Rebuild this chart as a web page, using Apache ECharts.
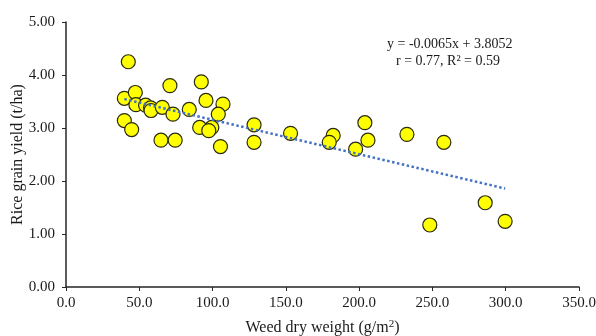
<!DOCTYPE html>
<html>
<head>
<meta charset="utf-8">
<script src="https://cdn.jsdelivr.net/npm/echarts@6/dist/echarts.min.js"></script>
<style>
  html, body { margin: 0; padding: 0; background: #ffffff; }
  #chart { width: 596px; height: 336px; }
</style>
</head>
<body>
<div id="chart"></div>
<script>
// weed dry weight (g/m2) and rice grain yield (t/ha)
const weedWeight = [
  42.5, 39.8, 47.3, 47.7, 54.3, 57.7, 58.0, 65.7, 70.9, 73.0,
  84.1, 92.3, 95.5, 107.1, 103.9, 91.2, 99.5, 97.4, 39.8, 44.8,
  64.8, 74.5, 105.4, 128.3, 128.3, 153.2, 182.3, 179.6, 203.9, 206.0,
  197.6, 232.6, 257.8, 286.0, 299.6, 248.2
];
const grainYield = [
  4.25, 3.56, 3.67, 3.44, 3.43, 3.38, 3.33, 3.39, 3.80, 3.26,
  3.35, 3.87, 3.52, 3.45, 3.26, 3.01, 3.01, 2.95, 3.14, 2.97,
  2.77, 2.77, 2.65, 3.06, 2.73, 2.90, 2.86, 2.73, 3.10, 2.77,
  2.60, 2.88, 2.73, 1.59, 1.24, 1.17
];

// linear trend end points
const trendX = [39.8, 299.6];
const trendY = [3.546, 1.858];

const xTicks = [0, 50, 100, 150, 200, 250, 300, 350];
const yTicks = [0, 1, 2, 3, 4, 5];

const equationText = 'y = -0.0065x + 3.8052';
const statsText = 'r = 0.77, R\u00B2 = 0.59';

const serif = '"Liberation Serif", "Times New Roman", serif';
const axisColor = '#262626';
const textColor = '#1a1a1a';

const chart = echarts.init(document.getElementById('chart'), null, { renderer: 'canvas' });

const option = {
  animation: false,
  backgroundColor: '#ffffff',
  grid: { left: 66, right: 17, top: 22, bottom: 49, outerBoundsMode: 'none' },
  xAxis: {
    type: 'value',
    min: xTicks[0],
    max: xTicks[xTicks.length - 1],
    interval: 50,
    name: 'Weed dry weight (g/m{sup|2})',
    nameLocation: 'middle',
    nameGap: 32,
    nameMoveOverlap: false,
    nameTextStyle: {
      fontFamily: serif, fontSize: 16, color: textColor,
      rich: { sup: { fontFamily: serif, fontSize: 11, color: textColor, verticalAlign: 'top', padding: [0, 0, 7, 0] } }
    },
    axisLine: { lineStyle: { color: axisColor, width: 1.5 } },
    axisTick: { show: true, length: 4, lineStyle: { color: axisColor } },
    splitLine: { show: false },
    axisLabel: {
      fontFamily: serif, fontSize: 15, color: textColor, margin: 9,
      formatter: v => v.toFixed(1)
    }
  },
  yAxis: {
    type: 'value',
    min: yTicks[0],
    max: yTicks[yTicks.length - 1],
    interval: 1,
    name: 'Rice grain yield (t/ha)',
    nameLocation: 'middle',
    nameGap: 40,
    nameMoveOverlap: false,
    nameRotate: 90,
    nameTextStyle: { fontFamily: serif, fontSize: 16, color: textColor },
    axisLine: { show: true, lineStyle: { color: axisColor, width: 1.5 } },
    axisTick: { show: true, length: 4, lineStyle: { color: axisColor } },
    splitLine: { show: false },
    axisLabel: {
      fontFamily: serif, fontSize: 15, color: textColor, margin: 11,
      formatter: v => v.toFixed(2)
    }
  },
  graphic: [
    {
      type: 'text',
      left: 387, top: 37,
      style: {
        text: equationText,
        font: '14px ' + serif,
        fill: textColor
      }
    },
    {
      type: 'text',
      left: 396, top: 54,
      style: {
        text: statsText,
        font: '14px ' + serif,
        fill: textColor
      }
    }
  ],
  series: [
    {
      type: 'scatter',
      data: weedWeight.map((x, i) => [x, grainYield[i]]),
      symbol: 'circle',
      symbolSize: 14,
      itemStyle: { color: '#ffff00', borderColor: '#2a2a10', borderWidth: 1.2, opacity: 1 },
      z: 2
    },
    {
      type: 'line',
      data: trendX.map((x, i) => [x, trendY[i]]),
      symbol: 'none',
      lineStyle: { color: '#4472c4', width: 2.5, type: [2.5, 2.5], cap: 'butt' },
      z: 3
    }
  ]
};

chart.setOption(option);
</script>
</body>
</html>
